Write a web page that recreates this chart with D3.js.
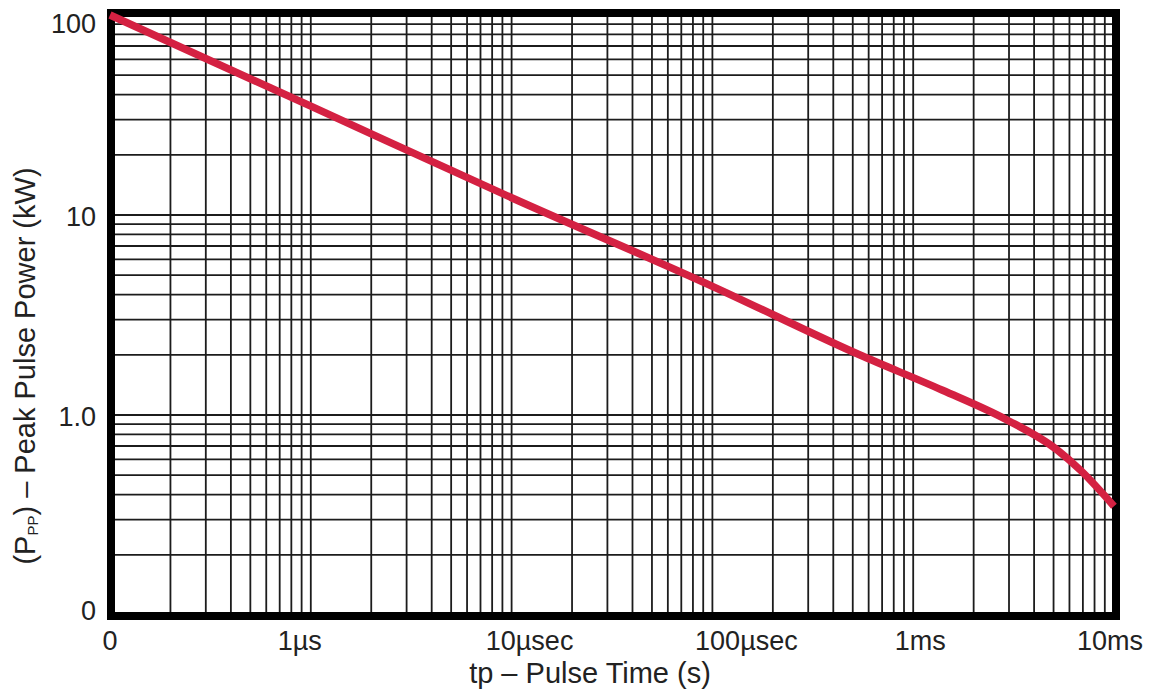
<!DOCTYPE html>
<html>
<head>
<meta charset="utf-8">
<script src="https://cdn.jsdelivr.net/npm/d3@7"></script>
<style>
  html, body { margin: 0; padding: 0; background: #fff; }
  svg { display: block; }
  text { font-family: "Liberation Sans", Arial, sans-serif; fill: #222; }
</style>
</head>
<body>
<svg id="chart" width="1152" height="700"></svg>
<script>
// ---- data ----
const pulseTime = [1e-7, 1e-6, 1e-5, 1e-4, 5.4e-4, 1.4e-3, 2.9e-3, 5.2e-3, 6.8e-3, 1e-2]; // seconds
const peakPower = [100, 35, 12.2, 4.4, 2.0, 1.33, 0.95, 0.67, 0.53, 0.35];              // kW

const xTickValues = [1e-7, 1e-6, 1e-5, 1e-4, 1e-3, 1e-2];
const xTickLabels = ["0", "1\u00b5s", "10\u00b5sec", "100\u00b5sec", "1ms", "10ms"];
const yTickValues = [0.1, 1, 10, 100];
const yTickLabels = ["0", "1.0", "10", "100"];

const xTitle = "tp \u2013 Pulse Time (s)";

// ---- layout ----
const W = 1152, H = 700;
const plotL = 110, plotR = 1114, plotT = 15, plotB = 615;
const xLabelShift = [0, -11, 18, 34, 7, -4];

const svg = d3.select("#chart");
svg.append("rect").attr("width", W).attr("height", H).attr("fill", "#fff");

const x = d3.scaleLog().domain([1e-7, 1e-2]).range([plotL, plotR]);
const y = d3.scaleLog().domain([0.1, 100]).range([plotB, plotT]);

// grid
const grid = svg.append("g").attr("stroke", "#1c1c1c").attr("stroke-width", 1.8);
grid.selectAll("line.v").data(x.ticks()).join("line")
  .attr("class", "v")
  .attr("x1", d => x(d)).attr("x2", d => x(d))
  .attr("y1", y(100)).attr("y2", y(0.1));
grid.selectAll("line.h").data(y.ticks()).join("line")
  .attr("class", "h")
  .attr("y1", d => y(d)).attr("y2", d => y(d))
  .attr("x1", x(1e-7)).attr("x2", x(1e-2));

// frame
svg.append("rect")
  .attr("x", x(1e-7) + 1).attr("y", y(100) - 2)
  .attr("width", x(1e-2) - x(1e-7) + 1).attr("height", y(0.1) - y(100) + 3)
  .attr("fill", "none").attr("stroke", "#000").attr("stroke-width", 8);

// curve
const pts = pulseTime.map((t, i) => [t, peakPower[i]]);
const line = d3.line().x(d => x(d[0])).y(d => y(d[1])).curve(d3.curveMonotoneX);
svg.append("path").datum(pts)
  .attr("d", line)
  .attr("fill", "none").attr("stroke", "#d42142").attr("stroke-width", 7.5)
  .attr("stroke-linecap", "butt");

// x tick labels
svg.append("g").selectAll("text").data(xTickValues).join("text")
  .attr("x", (d, i) => x(d) + xLabelShift[i])
  .attr("y", 650)
  .attr("text-anchor", "middle")
  .attr("font-size", 27)
  .text((d, i) => xTickLabels[i]);

// y tick labels
svg.append("g").selectAll("text").data(yTickValues).join("text")
  .attr("x", 96)
  .attr("y", d => Math.max(plotT + 18, Math.min(plotB + 5, y(d) + 11)))
  .attr("text-anchor", "end")
  .attr("font-size", 27)
  .text((d, i) => yTickLabels[i]);

// x axis title
svg.append("text")
  .attr("x", 590).attr("y", 683)
  .attr("text-anchor", "middle")
  .attr("font-size", 29)
  .text(xTitle);

// y axis title with subscript
const yt = svg.append("text")
  .attr("transform", "translate(35,366) rotate(-90)")
  .attr("text-anchor", "middle")
  .attr("font-size", 29);
yt.append("tspan").text("(P");
yt.append("tspan").attr("font-size", 15).attr("dy", 3).text("PP");
yt.append("tspan").attr("dy", -3).text(") \u2013 Peak Pulse Power (kW)");
</script>
</body>
</html>
